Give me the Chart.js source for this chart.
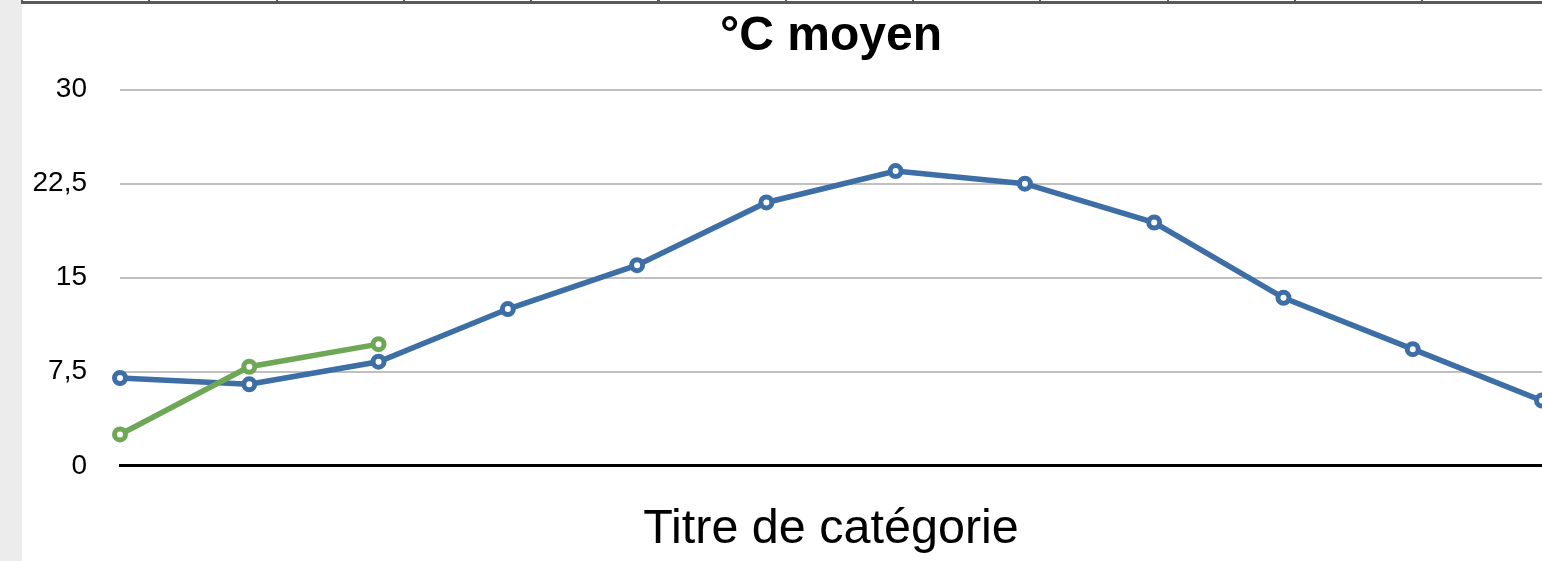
<!DOCTYPE html>
<html lang="fr">
<head>
<meta charset="utf-8">
<title>°C moyen</title>
<script src="https://cdn.jsdelivr.net/npm/chart.js@4/dist/chart.umd.min.js"></script>
<style>
  html, body {
    margin: 0;
    padding: 0;
    background: #ffffff;
    overflow: hidden;
  }
  body {
    position: relative;
    width: 1542px;
    height: 561px;
  }
  /* grey margin on the left of the sheet */
  .side {
    position: absolute;
    left: 0;
    top: 0;
    width: 22px;
    height: 561px;
    background: #ececec;
  }
  /* bottom edge of the row of cells above the chart */
  .cells {
    position: absolute;
    left: 21px;
    top: 0;
    width: 1521px;
    height: 4px;
    border-bottom: 3px solid #5a5a5a;
    box-sizing: border-box;
    background: repeating-linear-gradient(
      to right,
      #5a5a5a 0px, #5a5a5a 2px,
      transparent 2px, transparent 127.3px
    );
  }
  #tempChart {
    position: absolute;
    left: 22px;
    top: 0;
  }
</style>
</head>
<body>
<div class="side"></div>
<canvas id="tempChart" width="1520" height="561"></canvas>
<div class="cells"></div>

<script>
const months = ["janv.", "févr.", "mars", "avr.", "mai", "juin",
                "juil.", "août", "sept.", "oct.", "nov.", "déc."];

// monthly average, full year
const moyenneAnnuelle = [7.0, 6.5, 8.3, 12.5, 16.0, 21.0,
                         23.5, 22.5, 19.4, 13.4, 9.3, 5.2];

// current year, first three months only
const anneeEnCours = [2.5, 7.9, 9.7];

const yTickLabels = ["0", "7,5", "15", "22,5", "30"];

const fontFamily = "'Liberation Sans', Arial, Helvetica, sans-serif";

const canvas = document.getElementById("tempChart");
const ctx = canvas.getContext("2d");

const lineStyle = (color) => ({
  borderColor: color,
  backgroundColor: "#ffffff",
  pointBorderColor: color,
  pointBackgroundColor: "#ffffff",
  borderWidth: 5.5,
  pointRadius: 5.5,
  pointBorderWidth: 5,
  tension: 0
});

new Chart(ctx, {
  type: "line",
  data: {
    labels: months,
    datasets: [
      { label: "Année en cours", data: anneeEnCours, ...lineStyle("#6ea857"), order: 0 },
      { label: "Moyenne", data: moyenneAnnuelle, ...lineStyle("#3d6ea5"), order: 1 }
    ]
  },
  options: {
    responsive: false,
    animation: false,
    layout: {
      autoPadding: false,
      padding: 0
    },
    plugins: {
      legend: { display: false },
      tooltip: { enabled: false },
      title: {
        display: true,
        text: "°C moyen",
        fullSize: false,
        color: "#000000",
        font: { family: fontFamily, size: 48, weight: "bold", lineHeight: 1.2 },
        padding: { top: 8, bottom: 24 }
      }
    },
    scales: {
      x: {
        type: "category",
        offset: false,
        grid: { display: false, drawTicks: false },
        border: { display: true, color: "#000000", width: 3 },
        ticks: { display: false },
        title: {
          display: true,
          text: "Titre de catégorie",
          color: "#000000",
          font: { family: fontFamily, size: 48.5, lineHeight: 1.2 },
          padding: { top: 35, bottom: 2 }
        }
      },
      y: {
        min: 0,
        max: 30,
        afterFit: (scale) => { scale.width = 98; },
        grid: {
          color: "#c0c0c0",
          lineWidth: 2,
          drawTicks: false
        },
        border: { display: false },
        ticks: {
          stepSize: 7.5,
          padding: 33,
          color: "#000000",
          font: { family: fontFamily, size: 28 },
          callback: (value, index) => yTickLabels[index]
        }
      }
    }
  }
});
</script>
</body>
</html>
